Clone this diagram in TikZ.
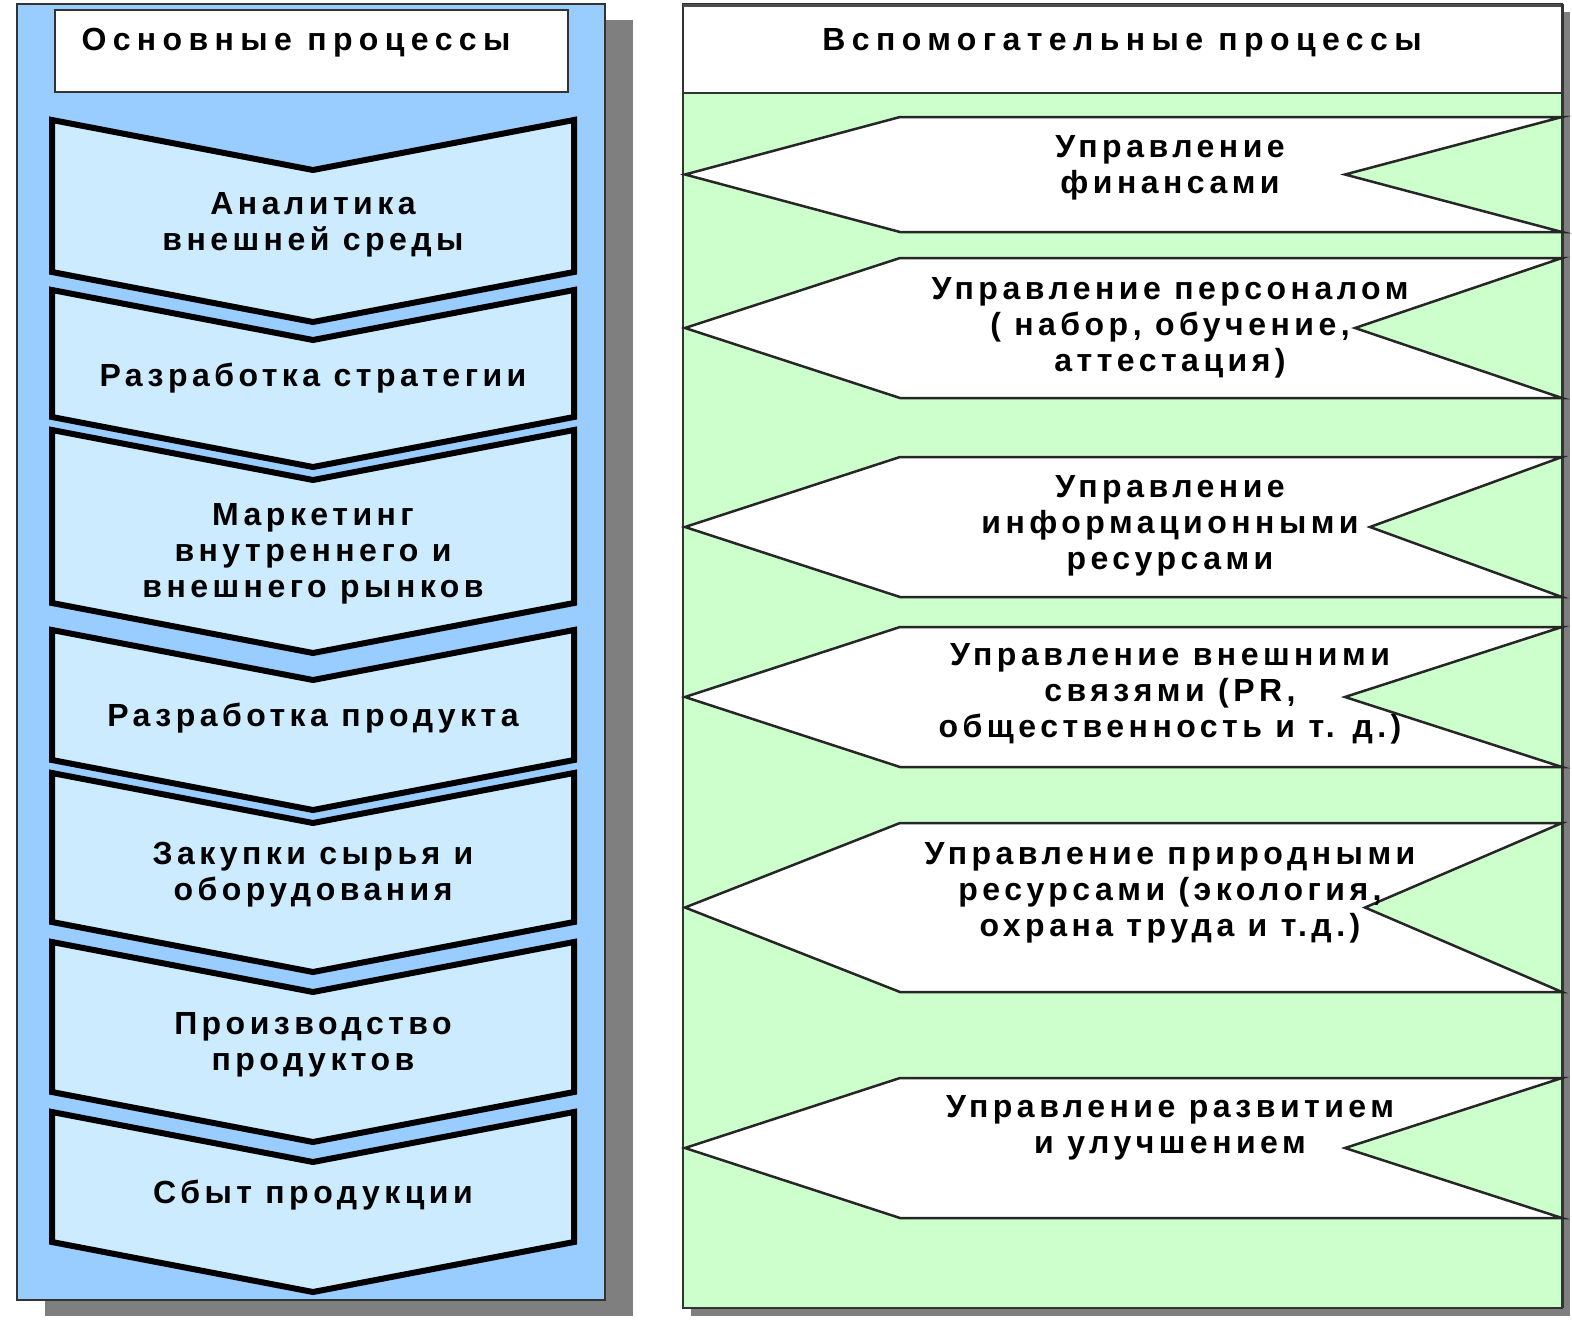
\documentclass[tikz,border=0pt]{standalone}
\usepackage{fontspec}
\newfontfamily\lblfont[LetterSpace=14]{Liberation Sans}
\newfontfamily\hdrfont[LetterSpace=20]{Liberation Sans}
\definecolor{panelblue}{HTML}{99CCFF}
\definecolor{chevblue}{HTML}{CCEBFF}
\definecolor{panelgreen}{HTML}{CCFFCC}
\definecolor{shadowgray}{HTML}{7F7F7F}
\tikzset{
  lbl/.style={font={\lblfont\bfseries\fontsize{32}{36}\selectfont}, align=center, text=black, inner sep=0pt},
  hdr/.style={font={\hdrfont\bfseries\fontsize{32}{36}\selectfont}, align=center, text=black, inner sep=0pt},
  chev/.style={fill=chevblue, draw=black, line width=6pt, line join=miter},
  supp/.style={fill=white, draw=black!85, line width=2.5pt, line join=miter},
}
\begin{document}
\begin{tikzpicture}[x=1pt,y=-1pt]
\useasboundingbox (0,0) rectangle (1572,1320);
\fill[white] (0,0) rectangle (1572,1320);
% ---------- left panel ----------
\fill[shadowgray] (45,20) rectangle (633,1316);
\draw[fill=panelblue, draw=black!80, line width=1.5pt] (17,4) rectangle (605,1300);
\draw[fill=white, draw=black!80, line width=1.5pt] (55,10) rectangle (568,92);
\node[hdr] (lhead) at (296,43) {Основные процессы};
% chevrons: top y, bottom-side y
\foreach \t/\b in {120/272, 290/417, 430/603, 630/760, 773/922, 942/1092, 1112/1242}{
  \draw[chev] (52,\t) -- (313,\t+50) -- (574,\t) -- (574,\b) -- (313,\b+50) -- (52,\b) -- cycle;
}
\node[lbl] (c1) at (313,225) {Аналитика\\внешней среды};
\node[lbl] (c2) at (313,378) {Разработка стратегии};
\node[lbl] (c3) at (313,554) {Маркетинг\\внутреннего и\\внешнего рынков};
\node[lbl] (c4) at (313,718) {Разработка продукта};
\node[lbl] (c5) at (313,875) {Закупки сырья и\\оборудования};
\node[lbl] (c6) at (313,1045) {Производство\\продуктов};
\node[lbl] (c7) at (313,1195) {Сбыт продукции};
% ---------- right panel ----------
\fill[shadowgray] (691,12) rectangle (1570,1316);
\fill[panelgreen] (683,93) rectangle (1562,1308);
\fill[white] (683,4) rectangle (1562,93);
\draw[black!80, line width=1.5pt] (683,93) -- (1562,93);
\draw[black!80, line width=1.5pt] (683,4) rectangle (1562,1308);
\draw[black!70, line width=3pt] (683,5) -- (1562,5);
\draw[black!80, line width=3pt] (1562,4) -- (1562,1308);
\node[hdr] (rhead) at (1122,43) {Вспомогательные процессы};
% supporting shapes: top y, bottom y, notch x
\foreach \t/\b/\n in {117/232/1345, 258/398/1355, 457/597/1370, 627/767/1345, 823/992/1365, 1078/1218/1345}{
  \draw[supp] (685,{(\t+\b)/2}) -- (900,\t) -- (1562,\t) -- (\n,{(\t+\b)/2}) -- (1562,\b) -- (900,\b) -- cycle;
}
\node[lbl] (s1) at (1170,168) {Управление\\финансами};
\node[lbl] (s2) at (1170,328) {Управление персоналом\\( набор, обучение,\\аттестация)};
\node[lbl] (s3) at (1170,526) {Управление\\информационными\\ресурсами};
\node[lbl] (s4) at (1170,694) {Управление внешними\\связями (PR,\\общественность и т. д.)};
\node[lbl] (s5) at (1170,893) {Управление природными\\ресурсами (экология,\\охрана труда и т.д.)};
\node[lbl] (s6) at (1170,1128) {Управление развитием\\и улучшением};
\end{tikzpicture}
\end{document}
